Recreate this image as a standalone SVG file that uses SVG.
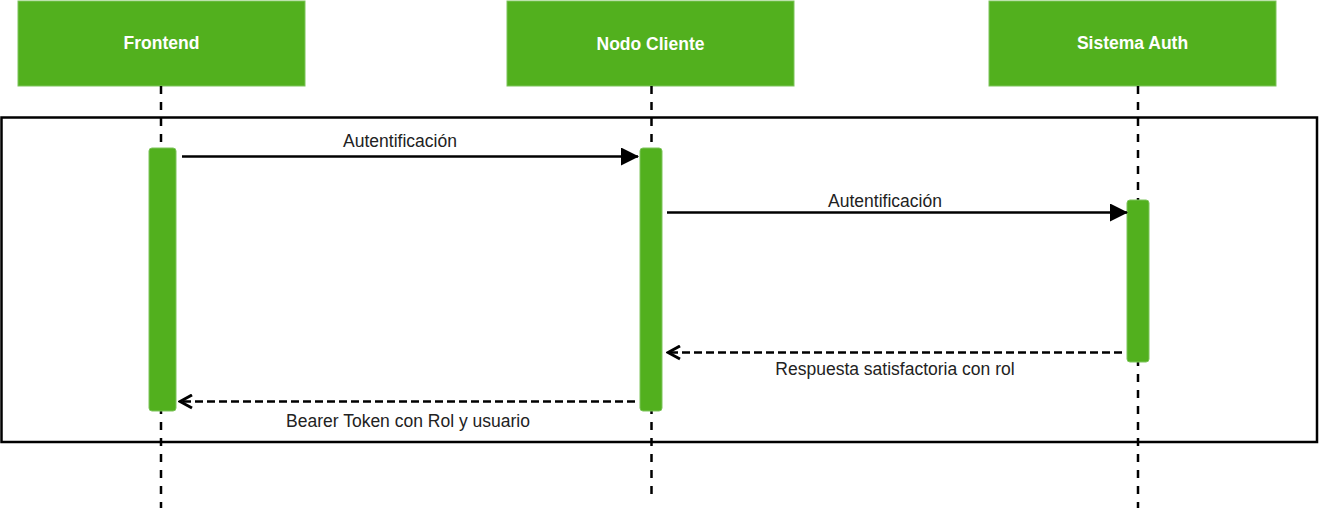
<svg xmlns="http://www.w3.org/2000/svg" width="1319" height="512" viewBox="0 0 1319 512">
<style>
.hdr{fill:#52b01e;stroke:#7cc45a;stroke-width:1}
.htxt{font-family:"Liberation Sans",Arial,sans-serif;font-weight:bold;font-size:17.5px;fill:#fff;text-anchor:middle}
.life{stroke:#000;stroke-width:2.5;stroke-dasharray:8 8;fill:none}
.act{fill:#52b01e;stroke:#7cc45a;stroke-width:1}
.msg{stroke:#000;stroke-width:2.5;fill:none}
.ret{stroke:#000;stroke-width:2.5;fill:none;stroke-dasharray:8 4}
.lbl{font-family:"Liberation Sans",Arial,sans-serif;font-size:17.5px;fill:#222;text-anchor:middle}
</style>
<defs>
<marker id="fill" markerWidth="18" markerHeight="18" refX="17" refY="9" orient="auto" markerUnits="userSpaceOnUse" viewBox="0 0 18 18">
<path d="M0,0 L18,9 L0,18 z" fill="#000"/>
</marker>
<marker id="open" markerWidth="16" markerHeight="16" refX="14" refY="8" orient="auto" markerUnits="userSpaceOnUse" viewBox="0 0 16 16">
<path d="M2,1.5 L14,8 L2,14.5" fill="none" stroke="#000" stroke-width="3"/>
</marker>
</defs>
<rect x="1.5" y="117.5" width="1315.5" height="324.5" fill="none" stroke="#000" stroke-width="2.5"/>
<g id="frontend">
<rect class="hdr" x="18" y="1" width="287" height="85"/>
<text class="htxt" x="161.5" y="49">Frontend</text>
<line class="life" x1="161" y1="86" x2="161" y2="508"/>
<rect class="act" x="149" y="148" width="27" height="263" rx="3"/>
</g>
<g id="nodo-cliente">
<rect class="hdr" x="507" y="1" width="287" height="85"/>
<text class="htxt" x="650.5" y="50">Nodo Cliente</text>
<line class="life" x1="651.5" y1="86" x2="651.5" y2="502"/>
<rect class="act" x="640" y="148" width="22" height="263" rx="3"/>
</g>
<g id="sistema-auth">
<rect class="hdr" x="989" y="1" width="287" height="85"/>
<text class="htxt" x="1132.5" y="49">Sistema Auth</text>
<line class="life" x1="1138" y1="86" x2="1138" y2="508"/>
<rect class="act" x="1127" y="200" width="22" height="162" rx="3"/>
</g>
<g id="connectors">
<line class="msg" x1="182" y1="156.5" x2="638" y2="156.5" marker-end="url(#fill)"/>
<text class="lbl" x="400" y="147">Autentificación</text>
<line class="msg" x1="667" y1="212.5" x2="1127" y2="212.5" marker-end="url(#fill)"/>
<text class="lbl" x="885" y="207">Autentificación</text>
<line class="ret" x1="1122" y1="352.5" x2="668" y2="352.5" marker-end="url(#open)"/>
<text class="lbl" x="895" y="375">Respuesta satisfactoria con rol</text>
<line class="ret" x1="635" y1="401.5" x2="180" y2="401.5" marker-end="url(#open)"/>
<text class="lbl" x="408" y="427">Bearer Token con Rol y usuario</text>
</g>
</svg>
